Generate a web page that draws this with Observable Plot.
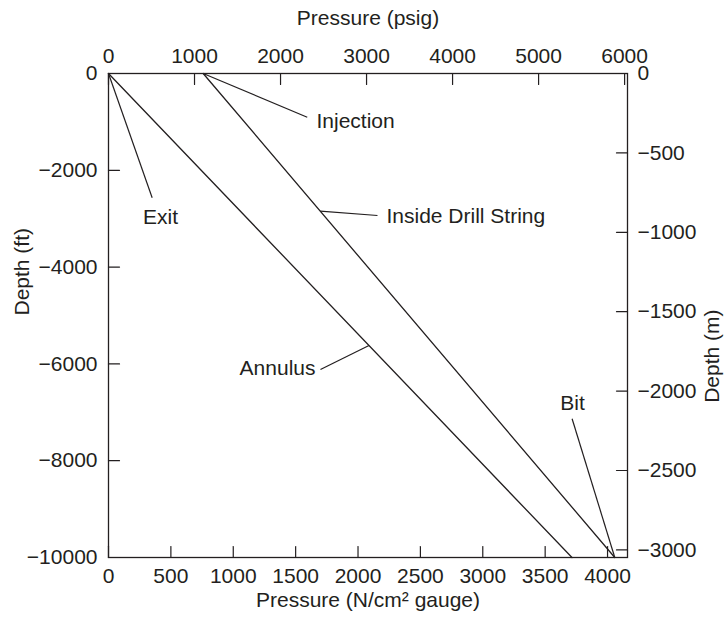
<!DOCTYPE html>
<html>
<head>
<meta charset="utf-8">
<script src="https://cdn.jsdelivr.net/npm/d3@7"></script>
<script src="https://cdn.jsdelivr.net/npm/@observablehq/plot@0.6"></script>
<style>
  html, body { margin: 0; padding: 0; background: #fff; }
</style>
</head>
<body>
<div id="chart"></div>
<script>
// Pressure traverse of a 10 000 ft well: inside the drill string and in the annulus.
const depthEnds = [0, -10000];              // ft: surface, bit
const annulusPressure = [0, 3715];          // N/cm² gauge at exit and at bit
const drillStringPressure = [759, 4058];    // N/cm² gauge at injection and at bit

// axis tick values
const pressureTicks = [0, 500, 1000, 1500, 2000, 2500, 3000, 3500, 4000]; // N/cm² gauge
const psigTicks = [0, 1000, 2000, 3000, 4000, 5000, 6000];
const depthFtTicks = [0, -2000, -4000, -6000, -8000, -10000];
const depthMTicks = [0, -500, -1000, -1500, -2000, -2500, -3000];

// unit conversions for the secondary axes
const PSI_TO_NCM2 = 0.689476;
const M_TO_FT = 3.28084;

// callouts: label position, leader start, and the depth where the leader meets its curve
const calloutText = ["Injection", "Exit", "Inside Drill String", "Annulus", "Bit"];
const calloutX = [1667, 417, 2228, 1659, 3719];
const calloutY = [-986, -2969, -2955, -6095, -6812];
const calloutAnchor = ["start", "middle", "start", "end", "middle"];
const leaderX = [1593, 350, 2156, 1699, 3716];
const leaderY = [-903, -2568, -2934, -6116, -7134];
const leaderSeries = ["drill", "annulus", "drill", "annulus", "drill"];
const leaderDepth = [0, 0, -2845, -5620, -10000];

// pressure on a straight traverse at a given depth
function pressureAt(series, depth) {
  const p = series === "drill" ? drillStringPressure : annulusPressure;
  const t = (depth - depthEnds[0]) / (depthEnds[1] - depthEnds[0]);
  return p[0] + t * (p[1] - p[0]);
}

const ink = "#231f20";
const xMax = 4160;
const fmt = d3.format("d");
const tickLen = 11;
// a plain inward tick, drawn as a vector
const tickShape = { draw(context, l) { context.moveTo(0, 0); context.lineTo(0, -l); } };

const rows = (p) => depthEnds.map((d, i) => ({ pressure: p[i], depth: d }));

const calloutMarks = ["start", "middle", "end"].map(a =>
  Plot.text(calloutText, {
    filter: (d, i) => calloutAnchor[i] === a,
    x: (d, i) => calloutX[i],
    y: (d, i) => calloutY[i],
    text: d => d,
    textAnchor: a,
    fill: ink
  })
);

const chart = Plot.plot({
  width: 724,
  height: 617,
  marginLeft: 108,
  marginRight: 97,
  marginTop: 73,
  marginBottom: 60,
  style: {
    fontFamily: "'Liberation Sans', Arial, Helvetica, sans-serif",
    fontSize: "21px",
    color: ink,
    background: "#fff"
  },
  x: { domain: [0, xMax], axis: null },
  y: { domain: [-10000, 0], axis: null },
  marks: [
    Plot.frame({ stroke: ink, strokeWidth: 1.3 }),

    // tick labels
    Plot.axisX({ anchor: "bottom", ticks: pressureTicks, tickFormat: fmt, tickSize: 0, tickPadding: 11, label: null, fill: ink }),
    Plot.axisX({ anchor: "top", ticks: psigTicks.map(p => p * PSI_TO_NCM2), tickFormat: d => fmt(Math.round(d / PSI_TO_NCM2)), tickSize: 0, tickPadding: 11, label: null, fill: ink }),
    Plot.axisY({ anchor: "left", ticks: depthFtTicks, tickFormat: fmt, tickSize: 0, tickPadding: 11, label: null, fill: ink }),
    Plot.axisY({ anchor: "right", ticks: depthMTicks.map(m => m * M_TO_FT), tickFormat: d => fmt(Math.round(d / M_TO_FT)), tickSize: 0, tickPadding: 10, label: null, fill: ink }),

    // inward ticks on all four sides
    Plot.vector(pressureTicks, { x: d => d, y: -10000, length: tickLen, rotate: 0, anchor: "start", shape: tickShape, stroke: ink, strokeWidth: 1.2 }),
    Plot.vector(psigTicks, { x: d => d * PSI_TO_NCM2, y: 0, length: tickLen, rotate: 180, anchor: "start", shape: tickShape, stroke: ink, strokeWidth: 1.2 }),
    Plot.vector(depthFtTicks, { x: 0, y: d => d, length: tickLen, rotate: 90, anchor: "start", shape: tickShape, stroke: ink, strokeWidth: 1.2 }),
    Plot.vector(depthMTicks, { x: xMax, y: d => d * M_TO_FT, length: tickLen, rotate: -90, anchor: "start", shape: tickShape, stroke: ink, strokeWidth: 1.2 }),

    // axis titles
    Plot.text(["Pressure (psig)"], { text: d => d, frameAnchor: "top", dy: -49, lineAnchor: "bottom", fill: ink }),
    Plot.text(["Pressure (N/cm² gauge)"], { text: d => d, frameAnchor: "bottom", dy: 49, lineAnchor: "bottom", fill: ink }),
    Plot.text(["Depth (ft)"], { text: d => d, frameAnchor: "left", dx: -86, rotate: -90, fill: ink }),
    Plot.text(["Depth (m)"], { text: d => d, frameAnchor: "right", dx: 85, dy: -6, rotate: -90, fill: ink }),

    // pressure traverses
    Plot.line(rows(annulusPressure), { x: "pressure", y: "depth", stroke: ink, strokeWidth: 1.3 }),
    Plot.line(rows(drillStringPressure), { x: "pressure", y: "depth", stroke: ink, strokeWidth: 1.3 }),

    // callout leaders and labels
    Plot.link(calloutText, {
      x1: (d, i) => leaderX[i],
      y1: (d, i) => leaderY[i],
      x2: (d, i) => pressureAt(leaderSeries[i], leaderDepth[i]),
      y2: (d, i) => leaderDepth[i],
      stroke: ink,
      strokeWidth: 1.2
    }),
    ...calloutMarks
  ]
});

document.getElementById("chart").append(chart);
</script>
</body>
</html>
